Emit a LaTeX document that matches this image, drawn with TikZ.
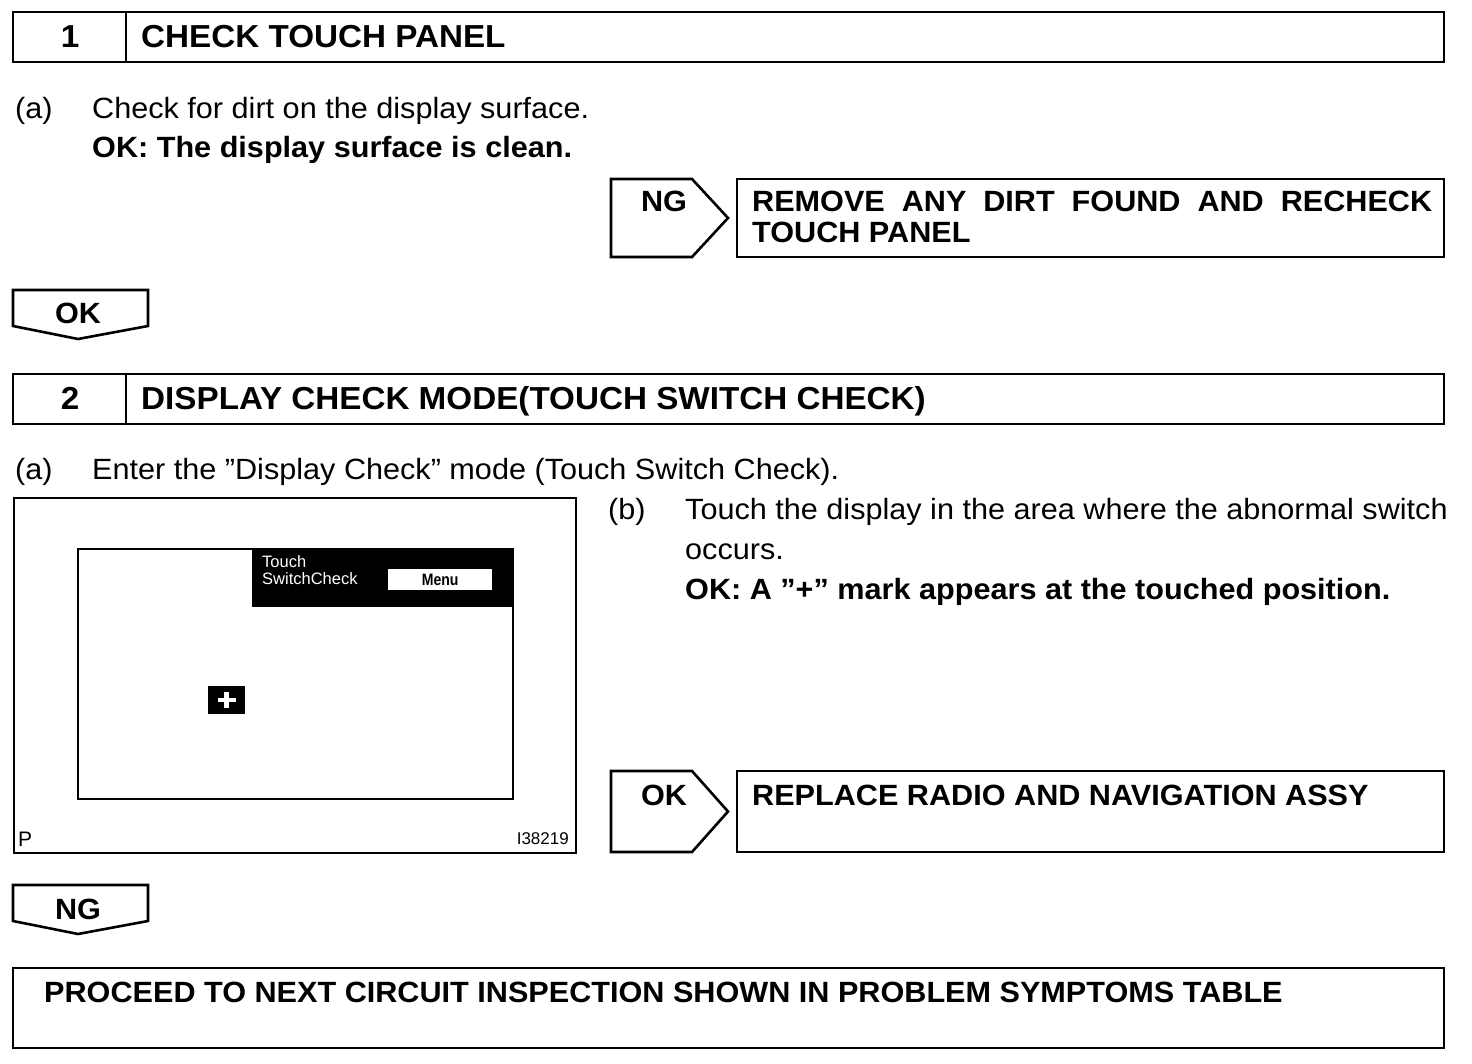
\documentclass[tikz,border=0pt]{standalone}
\usepackage{fontspec}
\setmainfont{Liberation Sans}[FakeStretch=1.045]
\newfontfamily\scrfont{Liberation Sans}
\begin{document}
\begin{tikzpicture}[x=1pt,y=-1pt,
  frame/.style={draw, line width=2.6pt, inner sep=0pt, outer sep=0pt, anchor=north west},
  rule/.style={line width=2.6pt},
  txt/.style={inner sep=0pt, anchor=base west, font=\fontsize{29.3}{39}\selectfont},
  btxt/.style={inner sep=0pt, anchor=base west, font=\fontsize{29.3}{31}\selectfont\bfseries},
  htxt/.style={inner sep=0pt, anchor=base west, font=\fontsize{31.8}{39}\selectfont\bfseries},
  ctxt/.style={inner sep=0pt, anchor=base, font=\fontsize{29.3}{39}\selectfont\bfseries},
  tagshape/.style={draw, line width=2.6pt, line join=miter},
  scr/.style={inner sep=0pt, anchor=base west, font=\scrfont\fontsize{16.5}{17}\selectfont},
]
\useasboundingbox (0,0) rectangle (1472,1064);

% ---------- Step 1 header
\node[frame, minimum width=1431pt, minimum height=50pt] (h1box) at (13,12) {};
\draw[rule] (126,12) -- (126,62);
\node[ctxt, font=\fontsize{31.8}{39}\selectfont\bfseries] (h1num) at (70,47.5) {1};
\node[htxt] (h1txt) at (141,47.5) {CHECK TOUCH PANEL};

\node[txt] (a1lbl) at (15,118.5) {(a)};
\node[txt] (a1txt) at (92,118.5) {Check for dirt on the display surface.};
\node[btxt] (a1ok) at (92,157.5) {OK: The display surface is clean.};

% NG tag 1 and result
\draw[tagshape] (611,179) -- (692,179) -- (728,218) -- (692,257) -- (611,257) -- cycle;
\node[ctxt] (ng1) at (664,211.5) {NG};
\node[frame, minimum width=707pt, minimum height=78pt] (res1) at (737,179) {};
\node[btxt] (res1txt) at (752,211.5)
  {\makebox[680pt][s]{REMOVE ANY DIRT FOUND AND RECHECK}};
\node[btxt] (res1txtb) at (752,242.5) {TOUCH PANEL};

% OK tag 1
\draw[tagshape] (13,290) -- (148,290) -- (148,326) -- (78,339) -- (13,326) -- cycle;
\node[ctxt] (ok1) at (78,323.5) {OK};

% ---------- Step 2 header
\node[frame, minimum width=1431pt, minimum height=50pt] (h2box) at (13,374) {};
\draw[rule] (126,374) -- (126,424);
\node[ctxt, font=\fontsize{31.8}{39}\selectfont\bfseries] (h2num) at (70,409.5) {2};
\node[htxt] (h2txt) at (141,409.5) {DISPLAY CHECK MODE(TOUCH SWITCH CHECK)};

\node[txt] (a2lbl) at (15,479.5) {(a)};
\node[txt] (a2txt) at (92,479.5) {Enter the ”Display Check” mode (Touch Switch Check).};

% illustration
\node[draw, line width=2.4pt, inner sep=0pt, anchor=north west, minimum width=562pt, minimum height=355pt] (illus) at (13,497) {};
\node[draw, line width=2pt, inner sep=0pt, anchor=north west, minimum width=435pt, minimum height=250pt] (screen) at (77,548) {};
\node[fill=black, inner sep=0pt, anchor=north west, minimum width=260pt, minimum height=59pt] (scrhead) at (252,548) {};
\node[scr, text=white] (touch) at (262,567) {Touch};
\node[scr, text=white] (swchk) at (262,584) {SwitchCheck};
\node[fill=white, inner sep=0pt, anchor=north west, minimum width=104pt, minimum height=21pt] (menubtn) at (388,569) {};
\node[inner sep=0pt, font=\scrfont\fontsize{16.5}{17}\selectfont\bfseries] (menutxt) at (menubtn.center) {\scalebox{0.85}[1]{Menu}};
\node[fill=black, inner sep=0pt, minimum width=37pt, minimum height=28pt] (plusbox) at (226.5,700) {};
\draw[white, line width=4.5pt] (217.5,700) -- (235.5,700) (226.5,692) -- (226.5,708);
\node[inner sep=0pt, anchor=base west, font=\scrfont\fontsize{21}{21}\selectfont] (pmark) at (18,846) {P};
\node[inner sep=0pt, anchor=base east, font=\scrfont\fontsize{17}{17}\selectfont] (fignum) at (569,844) {I38219};

% (b)
\node[txt] (b2lbl) at (608,519.5) {(b)};
\node[txt] (b2txt) at (685,519.5) {Touch the display in the area where the abnormal switch};
\node[txt] (b2txt2) at (685,559.5) {occurs.};
\node[btxt] (b2ok) at (685,599.5) {OK: A ”+” mark appears at the touched position.};

% OK tag 2 and result
\draw[tagshape] (611,771) -- (692,771) -- (728,811.5) -- (692,852) -- (611,852) -- cycle;
\node[ctxt] (ok2) at (664,805.5) {OK};
\node[frame, minimum width=707pt, minimum height=81pt] (res2) at (737,771) {};
\node[btxt] (res2txt) at (752,805.5) {REPLACE RADIO AND NAVIGATION ASSY};

% NG tag 2
\draw[tagshape] (13,885) -- (148,885) -- (148,921) -- (78,934) -- (13,921) -- cycle;
\node[ctxt] (ng2) at (78,919.5) {NG};

% final
\node[frame, minimum width=1431pt, minimum height=80pt] (final) at (13,968) {};
\node[btxt] (finaltxt) at (44,1002.5) {PROCEED TO NEXT CIRCUIT INSPECTION SHOWN IN PROBLEM SYMPTOMS TABLE};
\end{tikzpicture}
\end{document}
